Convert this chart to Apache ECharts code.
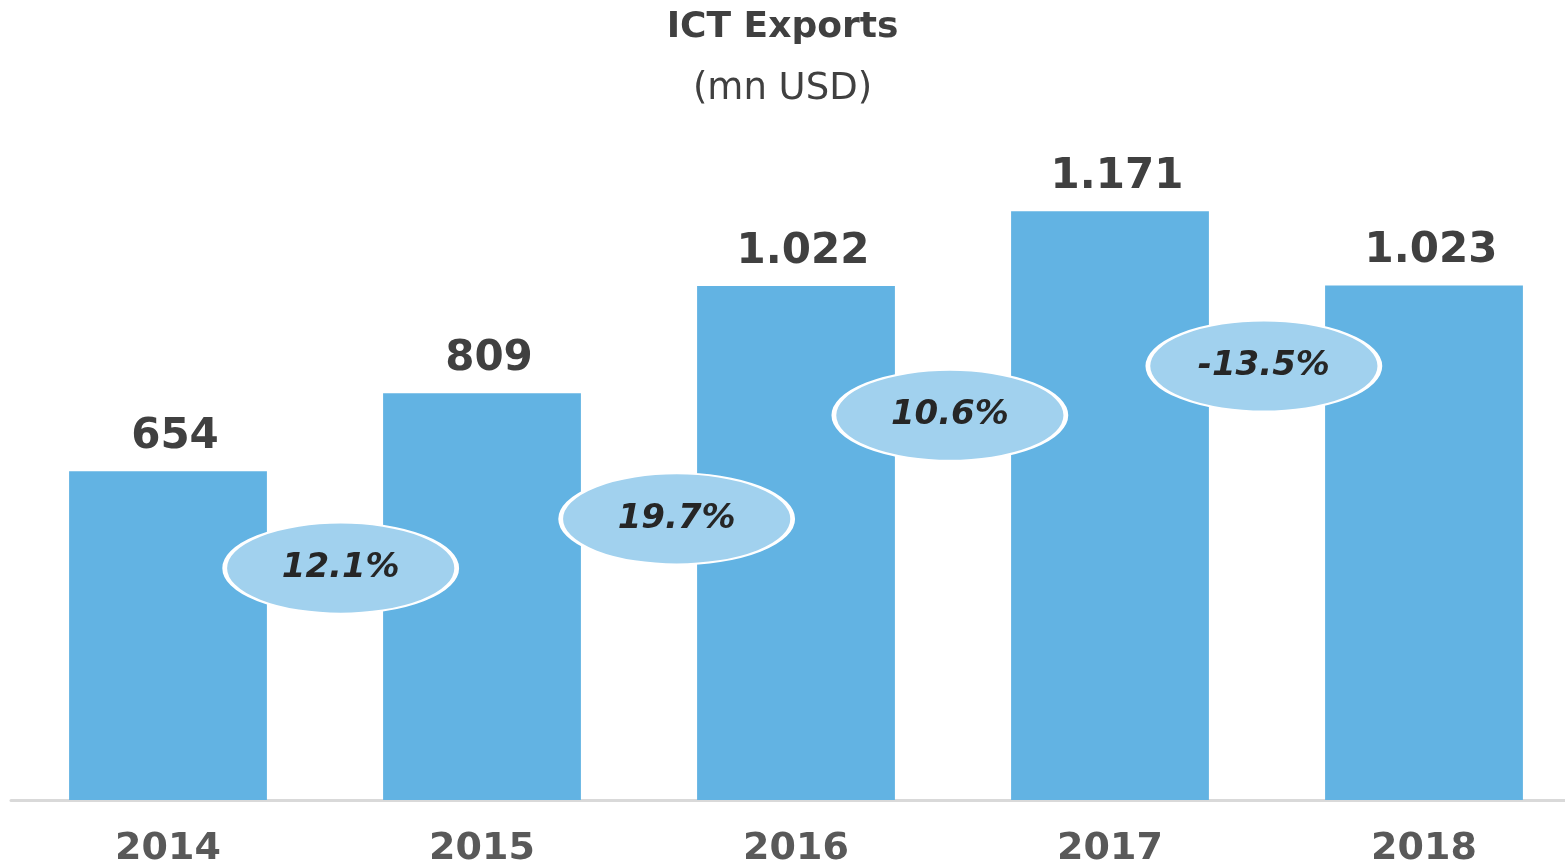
<!DOCTYPE html>
<html>
<head>
<meta charset="utf-8">
<script src="https://cdn.jsdelivr.net/npm/echarts@6/dist/echarts.min.js"></script>
<style>html,body{margin:0;padding:0;background:#fff;}#c{width:1565px;height:866px;}</style>
</head>
<body>
<div id="c"></div>
<script>
const years = ['2014', '2015', '2016', '2017', '2018'];
const exportValues = [654, 809, 1022, 1171, 1023];
const valueLabels = ['654', '809', '1.022', '1.171', '1.023'];
const growthLabels = ['12.1%', '19.7%', '10.6%', '-13.5%'];
// bubble anchor positions (category index, value units)
const growthX = [0.55, 1.62, 2.49, 3.49];
const growthY = [461, 559, 765, 863];

const FONT = 'DejaVu Sans';
const chart = echarts.init(document.getElementById('c'));
chart.setOption({
  animation: false,
  backgroundColor: '#ffffff',
  textStyle: { fontFamily: FONT },
  title: {
    text: 'ICT Exports',
    subtext: '(mn USD)',
    left: 'center',
    top: 5,
    itemGap: 25,
    textStyle: { fontFamily: FONT, fontSize: 36, fontWeight: 'bold', color: '#404040' },
    subtextStyle: { fontFamily: FONT, fontSize: 37, fontWeight: 'normal', color: '#404040' }
  },
  grid: { left: 11, right: -16, top: 96, bottom: 66, containLabel: false, outerBoundsMode: 'none' },
  xAxis: [
    {
      type: 'category',
      data: years,
      axisTick: { show: false },
      axisLine: { lineStyle: { color: '#d9d9d9', width: 3 } },
      axisLabel: { fontFamily: FONT, fontSize: 38, fontWeight: 'bold', color: '#595959', margin: 30 }
    },
    { type: 'value', min: -0.5, max: 4.5, show: false }
  ],
  yAxis: { type: 'value', min: 0, max: 1400, show: false },
  series: [
    {
      type: 'bar',
      data: exportValues,
      barWidth: '63%',
      itemStyle: { color: '#62b3e3' },
      label: {
        show: true,
        position: 'top',
        distance: 13,
        offset: [7, 0],
        formatter: p => valueLabels[p.dataIndex],
        fontFamily: FONT, fontSize: 42, fontWeight: 'bold', color: '#404040'
      },
      z: 2
    },
    {
      type: 'scatter',
      xAxisIndex: 1,
      data: growthX.map((x, i) => [x, growthY[i]]),
      symbol: 'circle',
      symbolSize: [232, 91],
      itemStyle: { color: '#a1d1ee', borderColor: '#ffffff', borderWidth: 3, opacity: 1 },
      label: {
        show: true,
        position: 'inside',
        formatter: p => growthLabels[p.dataIndex],
        fontFamily: FONT, fontSize: 34, fontWeight: 'bold', fontStyle: 'italic', color: '#262626'
      },
      z: 5
    }
  ]
});
</script>
</body>
</html>
